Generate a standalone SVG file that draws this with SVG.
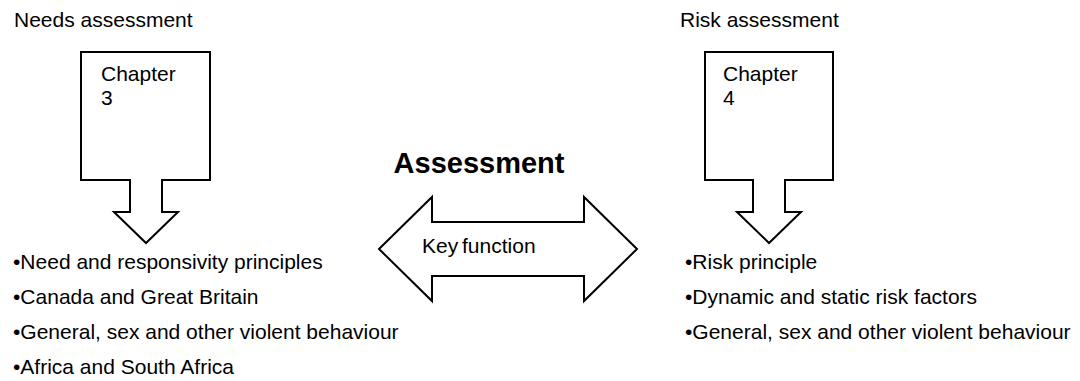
<svg xmlns="http://www.w3.org/2000/svg" width="1080" height="381" viewBox="0 0 1080 381">
<style>
text{font-family:"Liberation Sans",Arial,sans-serif;font-size:21px;fill:#000}
.shape{fill:#fff;stroke:#000;stroke-width:2;stroke-linejoin:miter}
.title{font-weight:bold;font-size:29px}
</style>
<rect width="1080" height="381" fill="#fff"/>
<g id="needs">
<text x="14" y="27">Needs assessment</text>
<path class="shape" d="M81,52 H210 V180 H162 V212 H178 L146,243 L114,212 H130 V180 H81 Z"/>
<text x="101" y="81">Chapter</text>
<text x="101" y="105">3</text>
<text x="13" y="269">•Need and responsivity principles</text>
<text x="13" y="304">•Canada and Great Britain</text>
<text x="13" y="339">•General, sex and other violent behaviour</text>
<text x="13" y="374">•Africa and South Africa</text>
</g>
<g id="risk">
<text x="680" y="27">Risk assessment</text>
<path class="shape" d="M705,52 H833 V180 H785 V212 H801 L769,243 L737,212 H753 V180 H705 Z"/>
<text x="723" y="81">Chapter</text>
<text x="723" y="105">4</text>
<text x="685" y="269">•Risk principle</text>
<text x="685" y="304">•Dynamic and static risk factors</text>
<text x="685" y="339">•General, sex and other violent behaviour</text>
</g>
<g id="assessment">
<text class="title" x="479" y="173" text-anchor="middle">Assessment</text>
</g>
<g id="connectors">
<path class="shape" d="M379,249 L432,197 V222 H584 V197 L637,249 L584,301 V276 H432 V301 Z"/>
<text x="422" y="253" word-spacing="-2">Key function</text>
</g>
</svg>
